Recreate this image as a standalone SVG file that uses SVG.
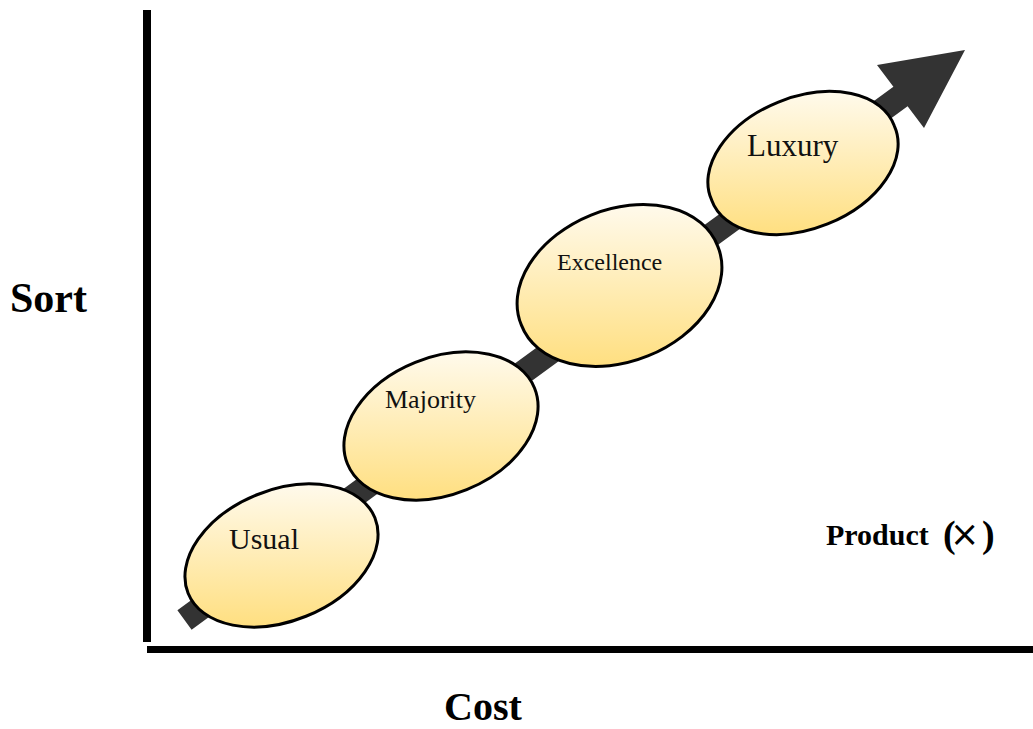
<svg xmlns="http://www.w3.org/2000/svg" width="1033" height="729" viewBox="0 0 1033 729">
<defs>
<linearGradient id="fillG" x1="0" y1="0" x2="0" y2="1">
<stop offset="0" stop-color="#fffaec"/>
<stop offset="1" stop-color="#ffdf80"/>
</linearGradient>
<style>
.node{fill:url(#fillG);stroke:#000;stroke-width:3}
.lbl{font-family:"Liberation Serif",serif;fill:#111}
.ax{font-family:"Liberation Serif",serif;font-weight:bold;fill:#000}
</style>
</defs>
<rect width="1033" height="729" fill="#fff"/>
<g id="axes">
<rect x="143" y="10" width="8" height="632" fill="#000"/>
<rect x="147" y="646" width="886" height="7" fill="#000"/>
</g>
<g id="connectors">
<polygon points="177.4,610.3 893.4,86.8 877,65 965,50 924,128 907.6,106.2 191.6,629.7" fill="#333"/>
</g>
<g id="usual">
<path class="node" d="M188.1,593.2 A100.7,65.5 -22 1 0 374.9,517.8 A100.7,65.5 -22 1 0 188.1,593.2 Z"/>
<text class="lbl" x="229" y="549" font-size="30">Usual</text>
</g>
<g id="majority">
<path class="node" d="M347.4,463.8 A100.9,68.6 -22 1 0 534.6,388.2 A100.9,68.6 -22 1 0 347.4,463.8 Z"/>
<text class="lbl" x="385" y="408" font-size="26">Majority</text>
</g>
<g id="excellence">
<path class="node" d="M521.4,325.1 A105.8,75 -22 1 0 717.6,245.9 A105.8,75 -22 1 0 521.4,325.1 Z"/>
<text class="lbl" x="557" y="270" font-size="24">Excellence</text>
</g>
<g id="luxury">
<path class="node" d="M711.6,199.9 A98.6,64.1 -22 1 0 894.4,126.1 A98.6,64.1 -22 1 0 711.6,199.9 Z"/>
<text class="lbl" x="747" y="156" font-size="31">Luxury</text>
</g>
<g id="labels">
<text class="ax" x="10" y="312" font-size="42">Sort</text>
<text class="ax" x="483" y="720" font-size="40" text-anchor="middle">Cost</text>
<text class="ax" x="826" y="545" font-size="30">Product<tspan x="943" y="547" font-size="38">(</tspan><tspan x="950" y="546" font-size="35" font-weight="normal" font-family="'DejaVu Sans',sans-serif">×</tspan><tspan x="982" y="547" font-size="38">)</tspan></text>
</g>
</svg>
